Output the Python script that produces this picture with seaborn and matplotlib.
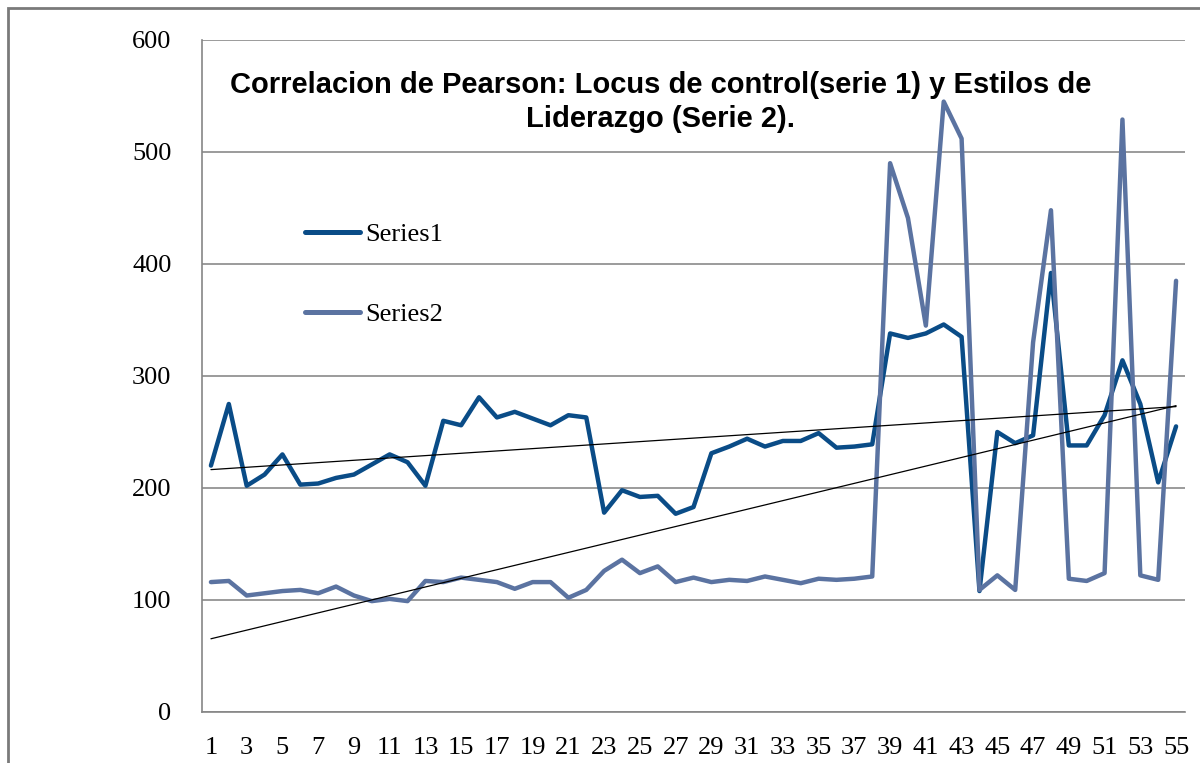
import numpy as np
import pandas as pd
import matplotlib
matplotlib.use("Agg")
import matplotlib.pyplot as plt
import matplotlib.patches as mpatches
import seaborn as sns

# ---- data ----
categories = list(range(1, 56))
series1 = [220, 275, 202, 212, 230, 203, 204, 209, 212, 221,
           230, 223, 202, 260, 256, 281, 263, 268, 262, 256,
           265, 263, 178, 198, 192, 193, 177, 183, 231, 237,
           244, 237, 242, 242, 249, 236, 237, 239, 338, 334,
           338, 346, 335, 108, 250, 240, 247, 392, 238, 238,
           265, 314, 275, 205, 255]
series2 = [116, 117, 104, 106, 108, 109, 106, 112, 104, 99,
           101, 99, 117, 116, 120, 118, 116, 110, 116, 116,
           102, 109, 126, 136, 124, 130, 116, 120, 116, 118,
           117, 121, 118, 115, 119, 118, 119, 121, 490, 441,
           345, 545, 512, 109, 122, 109, 330, 448, 119, 117,
           124, 529, 122, 118, 385]
series_names = ["Series1", "Series2"]
yticks = [0, 100, 200, 300, 400, 500, 600]
xtick_labels = [str(c) for c in categories if c % 2 == 1]
title = "Correlacion de Pearson: Locus de control(serie 1) y Estilos de\nLiderazgo (Serie 2)."

df = pd.DataFrame({
    "x": categories * 2,
    "value": series1 + series2,
    "serie": [series_names[0]] * len(series1) + [series_names[1]] * len(series2),
})

sns.set_theme(style="white")
plt.rcParams["font.family"] = ["Liberation Serif", "DejaVu Serif"]

fig = plt.figure(figsize=(12, 7.63), dpi=100)
ax = fig.add_axes([202 / 1200, 1 - 712 / 763, 983 / 1200, 672 / 763])

palette = {"Series1": "#0A4C87", "Series2": "#5B73A1"}
sns.lineplot(data=df, x="x", y="value", hue="serie", palette=palette,
             linewidth=3.2, ax=ax, legend=True, sort=False)

# linear trend lines
xs = np.array(categories, dtype=float)
for s in (series1, series2):
    m, b = np.polyfit(xs, np.array(s, dtype=float), 1)
    ax.plot([xs[0], xs[-1]], [m * xs[0] + b, m * xs[-1] + b],
            color="black", linewidth=0.9, zorder=5)

ax.set_xlim(0.5, 55.5)
ax.set_ylim(0, 600)
ax.set_yticks(yticks)
ax.set_yticklabels([str(v) for v in yticks])
ax.set_xticks([c for c in categories if c % 2 == 1])
ax.set_xticklabels(xtick_labels)
ax.set_xticks(np.arange(0.5, 56, 1), minor=True)
ax.tick_params(axis="x", which="major", length=0, pad=18, labelsize=19,
               labelcolor="black")
ax.tick_params(axis="x", which="minor", length=5, width=1, color="#868686", direction="out")
ax.tick_params(axis="y", which="major", length=7, width=1, color="#868686",
               direction="out", pad=15, labelsize=19, labelcolor="black")
ax.set_xlabel("")
ax.set_ylabel("")

ax.yaxis.grid(True, color="#8A8A8A", linewidth=1.2)
ax.xaxis.grid(False)
ax.set_axisbelow(True)
for side in ("top", "right"):
    ax.spines[side].set_visible(False)
for side in ("left", "bottom"):
    ax.spines[side].set_color("#868686")
    ax.spines[side].set_linewidth(1.2)

leg = ax.legend(loc="center left", bbox_to_anchor=(0.094, 0.651), frameon=False,
                fontsize=19, handlelength=2.1, handletextpad=0.2, labelspacing=2.15,
                borderaxespad=0)
for text in leg.get_texts():
    text.set_color("black")
for line in leg.get_lines():
    line.set_linewidth(3.6)

fig.text(661 / 1200, 1 - 102 / 763, title, ha="center", va="center",
         fontsize=21, fontweight="bold", color="black",
         family=["Liberation Sans", "DejaVu Sans"], linespacing=1.25)

# outer chart border
border = mpatches.Rectangle((8 / 1200, -0.1), 1.2, 1 - 8 / 763 + 0.1,
                            transform=fig.transFigure, fill=False,
                            edgecolor="#7A7A7A", linewidth=2, clip_on=False)
fig.patches.append(border)

fig.savefig("out.png", dpi=100)
